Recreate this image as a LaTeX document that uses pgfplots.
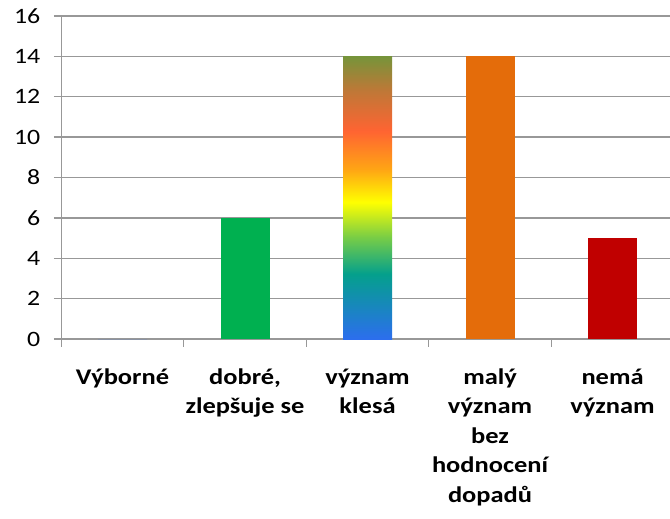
\documentclass[border=0pt]{standalone}
\usepackage{fontspec}
\setmainfont{Carlito}[FakeStretch=1.18]
\usepackage{pgfplots}
\pgfplotsset{compat=1.18}

\definecolor{gridgray}{RGB}{152,152,152}
\definecolor{bargreen}{RGB}{0,176,80}
\definecolor{barorange}{RGB}{228,108,10}
\definecolor{barred}{RGB}{192,0,0}
% gradient of the third bar, bottom to top
\definecolor{g0}{RGB}{44,110,238}
\definecolor{g1}{RGB}{4,160,140}
\definecolor{g2}{RGB}{120,205,70}
\definecolor{g3}{RGB}{255,255,0}
\definecolor{g4}{RGB}{255,165,20}
\definecolor{g5}{RGB}{255,100,50}
\definecolor{g6}{RGB}{190,120,55}
\definecolor{g7}{RGB}{118,148,58}
\pgfdeclareverticalshading{rainbowbar}{100bp}{color(0bp)=(g0); color(25bp)=(g0);
  color(36.5bp)=(g1); color(43bp)=(g2); color(49.2bp)=(g3); color(55bp)=(g4);
  color(61.8bp)=(g5); color(69bp)=(g6); color(75bp)=(g7); color(100bp)=(g7)}

\begin{document}
\begin{tikzpicture}
\begin{axis}[
  scale only axis,
  width=612.5bp, height=323bp,
  xmin=-0.5, xmax=4.5,
  ymin=0, ymax=16,
  ytick={0,2,...,16},
  axis x line*=bottom,
  axis y line*=left,
  axis line style={-, draw=gridgray, line width=1.3bp},
  ymajorgrids,
  grid style={draw=gridgray, line width=1.3bp},
  tick align=outside,
  major tick length=7.5bp,
  tick style={draw=gridgray, line width=1.3bp},
  xtick={-0.5,0.5,1.5,2.5,3.5,4.5},
  xticklabels={},
  extra x ticks={0,1,2,3,4},
  extra x tick labels={Výborné, {dobré,\\zlepšuje se}, {význam\\klesá},
    {malý\\význam\\bez\\hodnocení\\dopadů}, {nemá\\význam}},
  extra x tick style={major tick length=0pt},
  xticklabel style={font=\fontsize{22.5}{29.6}\selectfont\bfseries, align=center,
    anchor=north, yshift=-26bp},
  yticklabel style={font=\fontsize{22}{26}\selectfont, xshift=-10bp},
  /pgf/number format/assume math mode=true,
]
\addplot[ybar, bar width=0.4, bar shift=0pt, draw=none, fill=g0] coordinates {(0,0)};
\addplot[ybar, bar width=0.4, bar shift=0pt, draw=none, fill=bargreen] coordinates {(1,6)};
\addplot[ybar, bar width=0.4, bar shift=0pt, draw=none, shade, shading=rainbowbar] coordinates {(2,14)};
\addplot[ybar, bar width=0.4, bar shift=0pt, draw=none, fill=barorange] coordinates {(3,14)};
\addplot[ybar, bar width=0.4, bar shift=0pt, draw=none, fill=barred] coordinates {(4,5)};
\end{axis}
\pgfresetboundingbox
\useasboundingbox (-61.3bp,-180bp) rectangle (608.7bp,339bp);
\end{tikzpicture}
\end{document}
